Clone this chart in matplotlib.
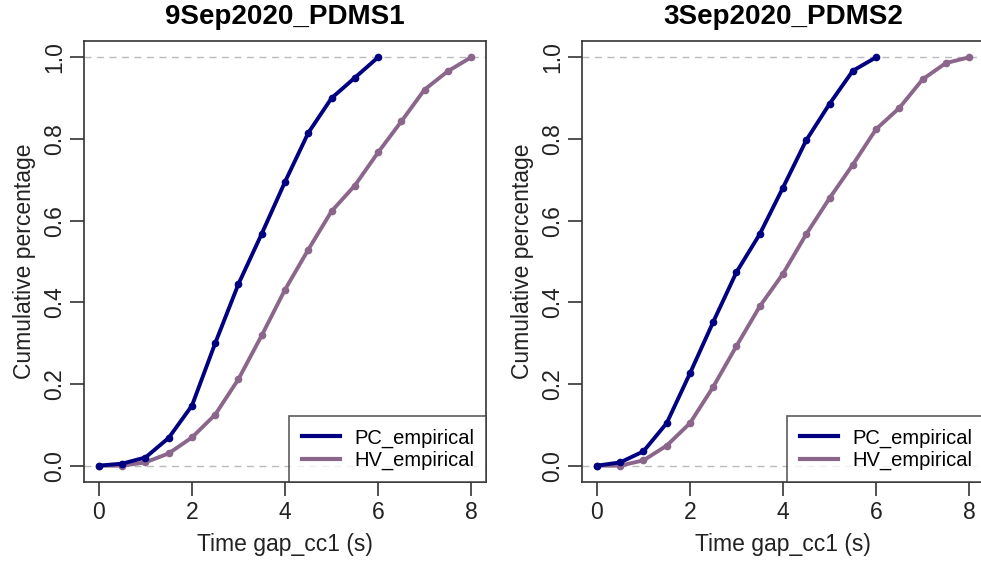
"""
Empirical cumulative curves of time gap_cc1 for the two PDMS sessions.
"""

import numpy as np
import matplotlib
matplotlib.use("Agg")
import matplotlib.pyplot as plt

plt.rcParams['font.family'] = ['Liberation Sans', 'DejaVu Sans']

# time gap grid (s)
gap_pc = [0, 0.5, 1, 1.5, 2, 2.5, 3, 3.5, 4, 4.5, 5, 5.5, 6]
gap_hv = [0, 0.5, 1, 1.5, 2, 2.5, 3, 3.5, 4, 4.5, 5, 5.5, 6, 6.5, 7, 7.5, 8]

# 9Sep2020_PDMS1
pc_s1 = [0, 0.005, 0.02, 0.068, 0.147, 0.30, 0.445, 0.568, 0.695, 0.815, 0.90, 0.95, 1.0]
hv_s1 = [0, 0, 0.008, 0.03, 0.069, 0.125, 0.212, 0.319, 0.431, 0.529, 0.623, 0.686,
         0.767, 0.843, 0.921, 0.966, 1.0]

# 3Sep2020_PDMS2
pc_s2 = [0, 0.008, 0.035, 0.104, 0.226, 0.352, 0.474, 0.567, 0.681, 0.797, 0.886, 0.967, 1.0]
hv_s2 = [0, 0, 0.013, 0.049, 0.104, 0.193, 0.293, 0.390, 0.470, 0.567, 0.655, 0.737,
         0.824, 0.876, 0.946, 0.986, 1.0]

panels = [
    ("9Sep2020_PDMS1", pc_s1, hv_s1),
    ("3Sep2020_PDMS2", pc_s2, hv_s2),
]

PC_COLOR = '#000080'
HV_COLOR = '#8B668B'
FRAME = '#333333'

W, H = 981, 564
fig = plt.figure(figsize=(W / 100, H / 100), dpi=100)

lefts = [84, 582]
for left, (title, pc, hv) in zip(lefts, panels):
    ax = fig.add_axes([left / W, (H - 482) / H, 402 / W, 441 / H])
    ax.axhline(0, color='#bbbbbb', linestyle=(0, (5, 4)), linewidth=1.0, zorder=1)
    ax.axhline(1, color='#bbbbbb', linestyle=(0, (5, 4)), linewidth=1.0, zorder=1)

    ax.plot(gap_pc, pc, color=PC_COLOR, linewidth=2.8, marker='o', markersize=4.5,
            label='PC_empirical', zorder=3)
    ax.plot(gap_hv, hv, color=HV_COLOR, linewidth=2.8, marker='o', markersize=4.5,
            label='HV_empirical', zorder=2)

    ax.set_xlim(-0.32, 8.32)
    ax.set_ylim(-0.04, 1.04)
    ax.set_xticks([0, 2, 4, 6, 8])
    ax.set_yticks(np.arange(0, 1.01, 0.2))
    ax.set_yticklabels([f"{v:.1f}" for v in np.arange(0, 1.01, 0.2)],
                       rotation=90, va='center')
    ax.tick_params(length=10, width=1.2, color=FRAME, labelcolor='#222222',
                   labelsize=16.5, pad=3)
    ax.tick_params(axis='x', pad=4)
    for s in ax.spines.values():
        s.set_color(FRAME)
        s.set_linewidth(1.2)

    ax.set_title(title, fontsize=20, fontweight='bold', pad=12)
    ax.set_xlabel('Time gap_cc1 (s)', fontsize=16.5, color='#222222', labelpad=6)
    ax.set_ylabel('Cumulative percentage', fontsize=16.5, color='#222222', labelpad=5)

    leg = ax.legend(loc='lower right', fontsize=14.5, frameon=True, fancybox=False,
                    borderaxespad=0, handlelength=1.9, handletextpad=0.7,
                    borderpad=0.6, labelspacing=0.15)
    leg.get_frame().set_edgecolor(FRAME)
    leg.get_frame().set_linewidth(1.2)
    for h in leg.legend_handles:
        h.set_marker('')
        h.set_linewidth(3)

fig.savefig('out.png', dpi=100)
